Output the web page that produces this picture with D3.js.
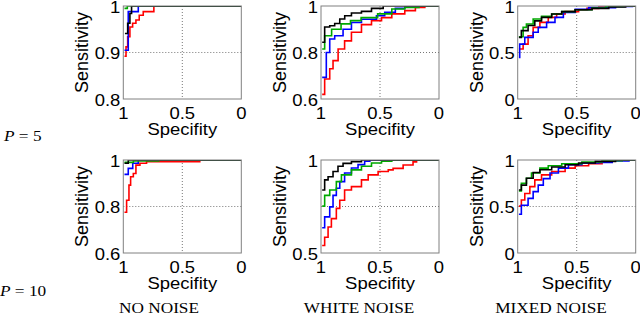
<!DOCTYPE html>
<html>
<head>
<meta charset="utf-8">
<script src="https://cdn.jsdelivr.net/npm/d3@7"></script>
<style>
  body { margin: 0; background: #fff; }
</style>
</head>
<body>
<div class="main"></div>
<script>
// ROC points: [specificity, sensitivity]

// P = 5, no noise
const p5NoneBlack = [[0.986, 0.941], [0.963, 0.963], [0.944, 0.984], [0.93, 1], [0, 1]];
const p5NoneGreen = [[0.99, 0.995], [0.966, 1], [0, 1]];
const p5NoneBlue = [[0.99, 0.905], [0.958, 0.988], [0.873, 1], [0, 1]];
const p5NoneRed = [[0.99, 0.892], [0.977, 0.912], [0.963, 0.934], [0.944, 0.955], [0.921, 0.963],
  [0.893, 0.97], [0.865, 0.98], [0.831, 0.988], [0.741, 1], [0, 1]];

// P = 5, white noise
const p5WhiteBlack = [[0.99, 0.844], [0.969, 0.91], [0.926, 0.915], [0.884, 0.925], [0.841, 0.944],
  [0.799, 0.958], [0.742, 0.97], [0.657, 0.977], [0.572, 0.99], [0.473, 1], [0, 1]];
const p5WhiteGreen = [[0.99, 0.815], [0.969, 0.872], [0.91, 0.9], [0.83, 0.923], [0.75, 0.937],
  [0.66, 0.95], [0.52, 0.966], [0.40, 0.987], [0.29, 0.994], [0.17, 1], [0, 1]];
const p5WhiteBlue = [[0.99, 0.693], [0.955, 0.80], [0.926, 0.858], [0.884, 0.872], [0.813, 0.90],
  [0.742, 0.929], [0.657, 0.943], [0.53, 0.958], [0.46, 0.973], [0.37, 0.99], [0.29, 1], [0, 1]];
const p5WhiteRed = [[0.99, 0.62], [0.969, 0.686], [0.926, 0.73], [0.898, 0.765], [0.855, 0.815],
  [0.80, 0.85], [0.742, 0.887], [0.657, 0.92], [0.572, 0.937], [0.487, 0.95], [0.40, 0.966],
  [0.29, 0.98], [0.20, 0.994], [0.12, 1], [0, 1]];

// P = 5, mixed noise
const p5MixedBlack = [[0.99, 0.663], [0.969, 0.735], [0.912, 0.79], [0.855, 0.84], [0.798, 0.878],
  [0.712, 0.914], [0.627, 0.94], [0.513, 0.96], [0.37, 0.975], [0.228, 0.989], [0.085, 1], [0, 1]];
const p5MixedGreen = [[0.99, 0.67], [0.954, 0.77], [0.926, 0.806], [0.869, 0.86], [0.798, 0.89],
  [0.712, 0.914], [0.627, 0.94], [0.513, 0.96], [0.37, 0.978], [0.256, 0.996], [0.1, 1], [0, 1]];
const p5MixedBlue = [[0.99, 0.448], [0.983, 0.59], [0.94, 0.663], [0.869, 0.717], [0.826, 0.77],
  [0.755, 0.824], [0.684, 0.878], [0.613, 0.93], [0.513, 0.964], [0.399, 0.982], [0.171, 0.996],
  [0.028, 1], [0, 1]];
const p5MixedRed = [[0.99, 0.538], [0.954, 0.59], [0.912, 0.68], [0.869, 0.77], [0.812, 0.824],
  [0.741, 0.878], [0.67, 0.914], [0.598, 0.94], [0.484, 0.96], [0.413, 0.975], [0.313, 0.989],
  [0.171, 1], [0, 1]];

// P = 10, no noise
const p10NoneBlack = [[0.99, 0.986], [0.958, 1], [0, 1]];
const p10NoneGreen = [[0.99, 0.99], [0.915, 0.996], [0.7, 1], [0, 1]];
const p10NoneBlue = [[0.99, 0.938], [0.958, 0.964], [0.92, 0.986], [0.873, 1], [0, 1]];
const p10NoneRed = [[0.99, 0.775], [0.972, 0.827], [0.952, 0.892], [0.938, 0.928], [0.915, 0.942],
  [0.893, 0.978], [0.859, 0.986], [0.803, 0.993], [0.352, 1], [0, 1]];

// P = 10, white noise
const p10WhiteBlack = [[0.99, 0.839], [0.969, 0.893], [0.94, 0.91], [0.898, 0.938], [0.856, 0.966],
  [0.813, 0.982], [0.742, 0.991], [0.657, 1], [0, 1]];
const p10WhiteGreen = [[0.99, 0.752], [0.969, 0.81], [0.926, 0.839], [0.87, 0.884], [0.827, 0.92],
  [0.742, 0.947], [0.657, 0.966], [0.572, 0.984], [0.487, 0.993], [0.40, 1], [0, 1]];
const p10WhiteBlue = [[0.99, 0.636], [0.969, 0.694], [0.926, 0.748], [0.898, 0.81], [0.87, 0.848],
  [0.841, 0.884], [0.80, 0.93], [0.742, 0.957], [0.686, 0.975], [0.63, 0.993], [0.586, 1], [0, 1]];
const p10WhiteRed = [[0.99, 0.54], [0.969, 0.585], [0.94, 0.64], [0.912, 0.685], [0.87, 0.74],
  [0.841, 0.784], [0.80, 0.839], [0.742, 0.857], [0.657, 0.893], [0.60, 0.92], [0.516, 0.938],
  [0.43, 0.947], [0.389, 0.955], [0.304, 0.973], [0.22, 0.99], [0.19, 1], [0, 1]];

// P = 10, mixed noise
const p10MixedBlack = [[0.99, 0.678], [0.969, 0.73], [0.926, 0.804], [0.869, 0.866], [0.812, 0.895],
  [0.712, 0.924], [0.598, 0.949], [0.484, 0.967], [0.342, 0.985], [0.171, 1], [0, 1]];
const p10MixedGreen = [[0.99, 0.667], [0.969, 0.75], [0.926, 0.804], [0.883, 0.86], [0.812, 0.913],
  [0.741, 0.938], [0.627, 0.96], [0.456, 0.978], [0.285, 0.993], [0.114, 1], [0, 1]];
const p10MixedBlue = [[0.99, 0.417], [0.969, 0.514], [0.912, 0.587], [0.869, 0.66], [0.826, 0.73],
  [0.783, 0.80], [0.726, 0.86], [0.655, 0.913], [0.57, 0.95], [0.456, 0.967], [0.313, 0.975],
  [0.199, 0.989], [0.057, 1], [0, 1]];
const p10MixedRed = [[0.99, 0.504], [0.969, 0.57], [0.94, 0.64], [0.897, 0.714], [0.855, 0.786],
  [0.798, 0.84], [0.712, 0.877], [0.598, 0.913], [0.513, 0.938], [0.399, 0.96], [0.285, 0.986],
  [0.171, 1], [0, 1]];

const colLabels = ["NO NOISE", "WHITE NOISE", "MIXED NOISE"];
const rowLabels = ["5", "10"];
const xTicks = [1, 0.5, 0];
const yTicks = [[0.8, 0.9, 1], [0.6, 0.8, 1], [0, 0.5, 1], [0.6, 0.8, 1], [0.5, 0.75, 1], [0, 0.5, 1]];
const yTickLabels = [["0.8", "0.9", "1"], ["0.6", "0.8", "1"], ["0", "0.5", "1"],
  ["0.6", "0.8", "1"], ["0.5", "", "1"], ["0", "0.5", "1"]];
const seriesColors = ["#ff0000", "#0000ff", "#00a800", "#000000"];

// one entry per panel, series in drawing order red, blue, green, black
const panels = [
  [p5NoneRed, p5NoneBlue, p5NoneGreen, p5NoneBlack],
  [p5WhiteRed, p5WhiteBlue, p5WhiteGreen, p5WhiteBlack],
  [p5MixedRed, p5MixedBlue, p5MixedGreen, p5MixedBlack],
  [p10NoneRed, p10NoneBlue, p10NoneGreen, p10NoneBlack],
  [p10WhiteRed, p10WhiteBlue, p10WhiteGreen, p10WhiteBlack],
  [p10MixedRed, p10MixedBlue, p10MixedGreen, p10MixedBlack]
];

// layout
var fullwidth = 640, fullheight = 316;
var colX = [123.3, 321, 517.7];
var rowY = [6, 160];
var pw = 118, ph = 93;
var sans = "'Liberation Sans', Arial, Helvetica, sans-serif";
var serif = "'Liberation Serif', 'Times New Roman', serif";
var stretch = 1.12; // the figure's text is a bit wider than it is tall

var svg = d3.select(".main")
  .append("svg")
  .attr("width", fullwidth)
  .attr("height", fullheight);

//text placed at (x,y) and stretched sideways
function wideText(parent, x, y, anchor, family, size, sx) {
  return parent.append("text")
    .attr("transform", "translate(" + x + "," + y + ") scale(" + sx + ",1)")
    .attr("text-anchor", anchor)
    .style("font-family", family)
    .style("font-size", size + "px");
}

panels.forEach(function(series, i) {
  var col = i % 3, row = Math.floor(i / 3);
  var g = svg.append("g")
    .attr("transform", "translate(" + colX[col] + "," + rowY[row] + ")");

  var x = d3.scaleLinear().domain([1, 0]).range([0, pw]);
  var y = d3.scaleLinear().domain([yTicks[i][0], 1]).range([ph, 0]);

  //dotted grid at the middle ticks
  g.append("line")
    .attr("x1", x(0.5)).attr("x2", x(0.5))
    .attr("y1", 0).attr("y2", ph)
    .attr("stroke", "#777").attr("stroke-dasharray", "1,2");
  g.append("line")
    .attr("x1", 0).attr("x2", pw)
    .attr("y1", y(yTicks[i][1])).attr("y2", y(yTicks[i][1]))
    .attr("stroke", "#777").attr("stroke-dasharray", "1,2");

  //clip curves to the box
  g.append("clipPath").attr("id", "clip" + i)
    .append("rect").attr("width", pw).attr("height", ph);

  var line = d3.line()
    .x(function(d) { return x(d[0]); })
    .y(function(d) { return y(d[1]); })
    .curve(d3.curveStepAfter);

  g.append("g")
    .attr("clip-path", "url(#clip" + i + ")")
    .selectAll("path")
    .data(series)
    .join("path")
    .attr("fill", "none")
    .attr("stroke", function(d, k) { return seriesColors[k]; })
    .attr("stroke-width", 1.6)
    .attr("d", line);

  //box
  g.append("rect")
    .attr("width", pw).attr("height", ph)
    .attr("fill", "none")
    .attr("stroke", "#808080")
    .attr("stroke-width", 1);

  //x tick labels
  xTicks.forEach(function(d) {
    wideText(g, x(d), ph + 19.5, "middle", sans, 16.5, stretch).text(String(d));
  });

  //y tick labels
  yTicks[i].forEach(function(d, k) {
    wideText(g, -3, y(d) + 6.5, "end", sans, 16.5, stretch).text(yTickLabels[i][k]);
  });

  //axis titles
  wideText(g, pw / 2, ph + 35.5, "middle", sans, 16.5, stretch).text("Specifity");

  g.append("text")
    .attr("transform", "translate(-35," + (ph / 2) + ") rotate(-90)")
    .attr("text-anchor", "middle")
    .style("font-family", sans)
    .style("font-size", "18px")
    .text("Sensitivity");
});

//row labels
var rowBase = [141, 296];
var rowLeft = [4, 0];
rowLabels.forEach(function(p, r) {
  var t = wideText(svg, rowLeft[r], rowBase[r], "start", serif, 15, 1.15);
  t.append("tspan").style("font-style", "italic").text("P");
  t.append("tspan").text(" = " + p);
});

//column labels
var colMid = [159, 359, 551];
colLabels.forEach(function(c, k) {
  wideText(svg, colMid[k], 313, "middle", serif, 15, 1.15).text(c);
});
</script>
</body>
</html>
